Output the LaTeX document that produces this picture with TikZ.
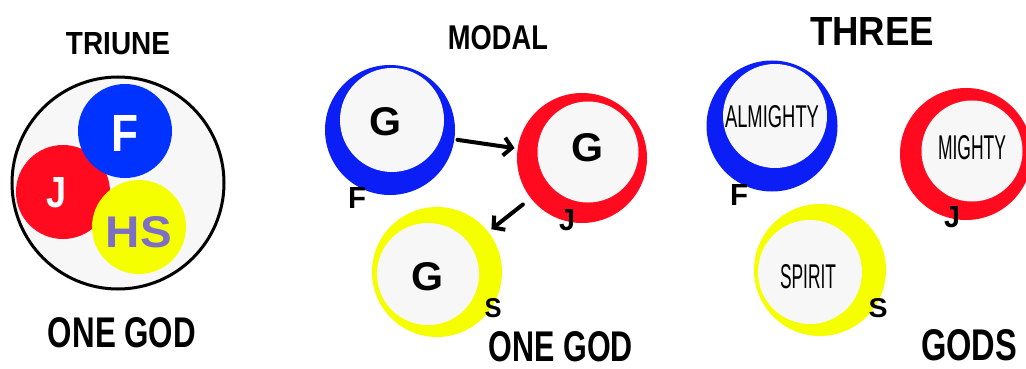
\documentclass[tikz,border=0pt]{standalone}
\usepackage{fontspec}
\setmainfont{Liberation Sans}
\usetikzlibrary{arrows.meta}
\definecolor{cblue}{HTML}{0A1EF5}
\definecolor{cblueL}{HTML}{0033FF}
\definecolor{cred}{HTML}{FF0A1E}
\definecolor{cyel}{HTML}{F5FF00}
\definecolor{inwhite}{HTML}{F7F7F7}
\definecolor{hspurple}{HTML}{7D6FC6}
\tikzset{
  disc/.style={circle,inner sep=0pt,draw=none,minimum size=#1},
  inner/.style={circle,inner sep=0pt,draw=none,fill=inwhite,minimum size=#1},
  hand/.style={inner sep=0pt,font=\bfseries},
  lbl/.style={inner sep=0pt,font=\bfseries},
  plaintxt/.style={inner sep=0pt},
  arr/.style={line width=4pt,-{Straight Barb[length=8pt,width=18pt]},line cap=round}
}
\newcommand{\rb}[3]{\resizebox{#1pt}{#2pt}{#3}}
\begin{document}
\begin{tikzpicture}[x=1pt,y=-1pt]
\useasboundingbox[fill=white] (0,0) rectangle (1026,369);
% ---------------- TRIUNE
\node[hand] (t1) at (118,44) {\rb{104}{22}{TRIUNE}};
\node[circle,draw=black,line width=3pt,fill=inwhite,minimum size=212pt,inner sep=0pt] (big) at (118,183) {};
\node[disc=94pt,fill=cred] (lj) at (63,192) {};
\node[disc=94pt,fill=cblueL] (lf) at (125,131) {};
\node[disc=94pt,fill=cyel] (lhs) at (139,227) {};
\node[lbl,text=white] (ljt) at (57,193) {\rb{20}{30}{J}};
\node[lbl,text=white] (lft) at (125,133) {\rb{27}{36}{F}};
\node[lbl,text=hspurple] (lhst) at (139,232) {\rb{66}{31}{HS}};
\node[hand] (o1) at (122,333) {\rb{148}{30}{ONE GOD}};
% ---------------- MODAL
\node[hand] (t2) at (498,38) {\rb{100}{24}{MODAL}};
\node[disc=130pt,fill=cblue] (mb) at (390,130) {};
\node[inner=104pt] (mbi) at (392,120) {};
\node[lbl] (mbg) at (385,122) {\rb{32}{28}{G}};
\node[lbl] (mbl) at (357,198) {\rb{18}{21}{F}};
\node[disc=130pt,fill=cred] (mr) at (582,158) {};
\node[inner=101pt] (mri) at (588,152) {};
\node[lbl] (mrg) at (587,148) {\rb{32}{28}{G}};
\node[lbl] (mrl) at (567,220) {\rb{16}{21}{J}};
\node[disc=130pt,fill=cyel] (my) at (437,272) {};
\node[inner=102pt] (myi) at (428,274) {};
\node[lbl] (myg) at (427,277) {\rb{32}{28}{G}};
\node[lbl] (myl) at (493,308) {\rb{17}{19}{S}};
\draw[arr,shorten <=3pt,shorten >=3pt] (mb) -- (mr);
\draw[arr,shorten <=10pt,shorten >=4pt] (mr) -- (my);
\node[hand] (o2) at (561,347) {\rb{144}{30}{ONE GOD}};
% ---------------- THREE
\node[hand] (t3) at (872,31) {\rb{124}{28}{THREE}};
\node[disc=131pt,fill=cblue] (tb) at (772,126) {};
\node[inner=104pt] (tbi) at (775,116) {};
\node[plaintxt] (tbt) at (772,117) {\rb{94}{22}{ALMIGHTY}};
\node[lbl] (tbl) at (739,195) {\rb{18}{21}{F}};
\node[disc=132pt,fill=cred] (tr) at (966,154) {};
\node[inner=101pt] (tri) at (972,151) {};
\node[plaintxt] (trt) at (972,148) {\rb{68}{24}{MIGHTY}};
\node[lbl] (trl) at (952,217) {\rb{16}{21}{J}};
\node[disc=132pt,fill=cyel] (ty) at (820,270) {};
\node[inner=104pt] (tyi) at (810,272) {};
\node[plaintxt] (tyt) at (808,277) {\rb{56}{24}{SPIRIT}};
\node[lbl] (tyl) at (878,308) {\rb{19}{19}{S}};
\node[hand] (o3) at (969,345) {\rb{96}{31}{GODS}};
\end{tikzpicture}
\end{document}
